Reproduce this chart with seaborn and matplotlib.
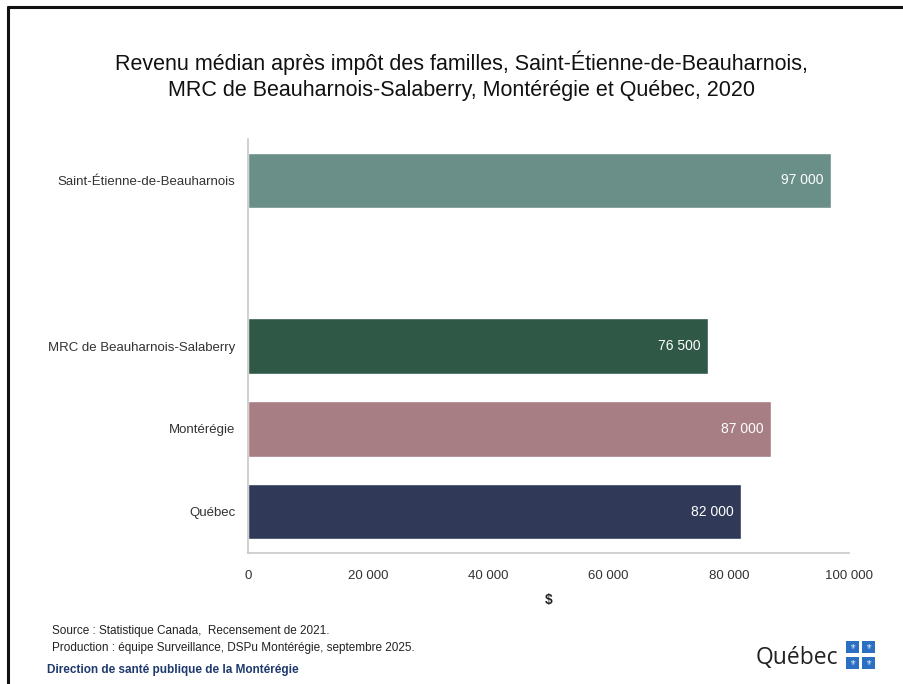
import matplotlib
matplotlib.use("Agg")
import matplotlib.pyplot as plt
from matplotlib.lines import Line2D
from matplotlib.patches import Rectangle
import pandas as pd
import seaborn as sns

# Data
regions = ["Saint-Étienne-de-Beauharnois", "MRC de Beauharnois-Salaberry",
           "Montérégie", "Québec"]
revenu = [97000, 76500, 87000, 82000]
colors = ["#6a8f88", "#2f5847", "#a67e84", "#303a58"]
# empty slot between the municipality and the comparison regions
order = [regions[0], " ", regions[1], regions[2], regions[3]]
xticks = [0, 20000, 40000, 60000, 80000, 100000]

title = ("Revenu médian après impôt des familles, Saint-Étienne-de-Beauharnois,\n"
         "MRC de Beauharnois-Salaberry, Montérégie et Québec, 2020")

sns.set_style("white")
plt.rcParams["font.family"] = ["Liberation Sans", "DejaVu Sans"]

df = pd.DataFrame({"region": regions, "revenu": revenu})

fig = plt.figure(figsize=(9.04, 6.84), dpi=100)
ax = fig.add_axes([0.2743, 0.1915, 0.6648, 0.6053])

sns.barplot(data=df, x="revenu", y="region", hue="region", order=order,
            hue_order=regions, palette=dict(zip(regions, colors)),
            saturation=1, width=0.67, legend=False, ax=ax)

def fmt_space(v):
    return f"{v:,.0f}".replace(",", " ")

for cont in ax.containers:
    labels = ax.bar_label(cont, fmt=fmt_space, label_type="edge", padding=-5,
                          color="white", fontsize=10)
    for t in labels:
        t.set_ha("right")

ax.set_xlim(0, 100000)
ax.set_xticks(xticks)
ax.set_xticklabels([fmt_space(t) for t in xticks], fontsize=9.5, color="#333333")
ax.tick_params(axis="x", direction="out", length=5, color="#bfbfbf", pad=7)
ax.tick_params(axis="y", length=0, labelsize=9.5, labelcolor="#333333", pad=9)
ax.set_ylabel("")
ax.set_xlabel("$", fontsize=10, fontweight="bold", labelpad=8)
for s in ["top", "right"]:
    ax.spines[s].set_visible(False)
for s in ["left", "bottom"]:
    ax.spines[s].set_color("#c8c8c8")
    ax.spines[s].set_linewidth(1.2)

fig.text(0.51, 0.889, title, ha="center", va="center", fontsize=15.5,
         linespacing=1.3, color="#111111")

# footer
fig.text(0.058, 0.073, "Source : Statistique Canada,  Recensement de 2021.",
         fontsize=8.5, color="#222222")
fig.text(0.058, 0.048, "Production : équipe Surveillance, DSPu Montérégie, septembre 2025.",
         fontsize=8.5, color="#222222")
fig.text(0.052, 0.016, "Direction de santé publique de la Montérégie",
         fontsize=8.5, color="#1f3a6e", fontweight="bold")

# Québec logo
fig.text(0.927, 0.038, "Québec", ha="right", va="center", fontsize=16.5,
         color="#222222", family=["Open Sans", "DejaVu Sans"])
for cx, cy in [(0.936, 0.046), (0.953, 0.046), (0.936, 0.022), (0.953, 0.022)]:
    fig.patches.append(Rectangle((cx, cy), 0.0145, 0.0175, transform=fig.transFigure,
                                 facecolor="#2a6fc2", edgecolor="none"))
    fig.text(cx + 0.00725, cy + 0.0088, "⚜", ha="center", va="center",
             fontsize=5, color="white", family=["DejaVu Sans"])

# slide frame
fig.add_artist(Line2D([0.009, 0.009], [0, 0.99], transform=fig.transFigure,
                      color="#111111", lw=2.2))
fig.add_artist(Line2D([0.009, 1.0], [0.99, 0.99], transform=fig.transFigure,
                      color="#111111", lw=2.2))

fig.savefig("out.png", dpi=100)
